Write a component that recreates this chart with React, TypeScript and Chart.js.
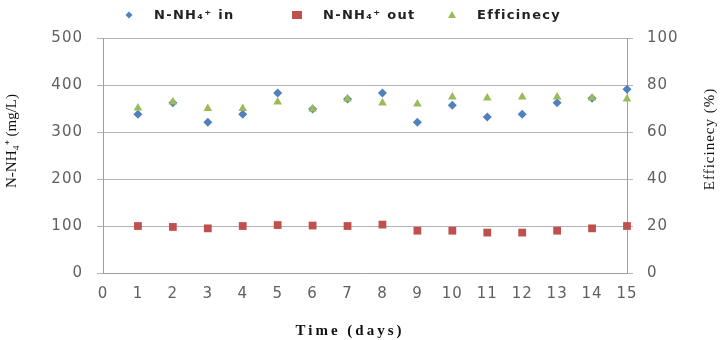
import React, { useEffect, useRef } from "react";
import { Chart, registerables } from "chart.js";

Chart.register(...registerables);

const days = [1, 2, 3, 4, 5, 6, 7, 8, 9, 10, 11, 12, 13, 14, 15];
const nh4In = [338, 362, 321, 338, 383, 349, 370, 383, 321, 357, 332, 338, 362, 372, 391];
const nh4Out = [100, 98, 95, 100, 102, 101, 100, 103, 90, 90, 86, 86, 90, 95, 100];
const efficiency = [70.2, 72.8, 70, 70, 72.8, 69.8, 74, 72.3, 71.9, 74.9, 74.5, 74.9, 74.9, 74.5, 74];

const seriesLabels = ["N-NH\u2084\u207A in", "N-NH\u2084\u207A out", "Efficinecy"];
const leftTitle = "N-NH\u2084\u207A (mg/L)";
const rightTitle = "Efficinecy (%)";
const xTitle = "Time (days)";

const BLUE = "#4F81BD";
const RED = "#C0504D";
const GREEN = "#9BBB59";
const GRID = "#b4b4b4";
const AXIS = "#a0a0a0";
const TICK = "#606060";

const overlay = {
  id: "overlay",
  beforeDraw(chart: any) {
    chart.ctx.letterSpacing = "1px";
  },
  afterDraw(chart: any) {
    const ctx = chart.ctx as CanvasRenderingContext2D;
    ctx.save();
    // legend
    ctx.letterSpacing = "1.3px";
    ctx.font = "bold 13px 'DejaVu Sans', sans-serif";
    ctx.textBaseline = "middle";
    ctx.textAlign = "left";
    const ly = 15;
    ctx.fillStyle = BLUE;
    ctx.beginPath();
    ctx.moveTo(129, ly - 3.5);
    ctx.lineTo(132.5, ly);
    ctx.lineTo(129, ly + 3.5);
    ctx.lineTo(125.5, ly);
    ctx.closePath();
    ctx.fill();
    ctx.fillStyle = "#222";
    ctx.fillText(seriesLabels[0], 154, ly + 1);
    ctx.fillStyle = RED;
    ctx.fillRect(292, ly - 4, 10, 8);
    ctx.fillStyle = "#222";
    ctx.fillText(seriesLabels[1], 323, ly + 1);
    ctx.fillStyle = GREEN;
    ctx.beginPath();
    ctx.moveTo(452, ly - 4);
    ctx.lineTo(456, ly + 3);
    ctx.lineTo(448, ly + 3);
    ctx.closePath();
    ctx.fill();
    ctx.fillStyle = "#222";
    ctx.fillText(seriesLabels[2], 477, ly + 1);

    // x title
    ctx.letterSpacing = "3px";
    ctx.font = "bold 15px 'Liberation Serif', serif";
    ctx.fillStyle = "#111";
    ctx.textAlign = "center";
    ctx.fillText(xTitle, 350, 331);

    // left title
    ctx.letterSpacing = "0px";
    ctx.font = "15px 'Liberation Serif', serif";
    ctx.save();
    ctx.translate(12, 141);
    ctx.rotate(-Math.PI / 2);
    ctx.fillText(leftTitle, 0, 0);
    ctx.restore();

    // right title
    ctx.letterSpacing = "1px";
    ctx.save();
    ctx.translate(710, 139);
    ctx.rotate(-Math.PI / 2);
    ctx.fillText(rightTitle, 0, 0);
    ctx.restore();

    ctx.restore();
    ctx.letterSpacing = "0px";
  },
};

export default function App() {
  const ref = useRef<HTMLCanvasElement>(null);
  useEffect(() => {
    document.body.style.margin = "0";
    const tickFont = { family: "'DejaVu Sans', sans-serif", size: 15 };
    const chart = new Chart(ref.current!, {
      type: "scatter",
      data: {
        datasets: [
          {
            label: seriesLabels[0],
            data: days.map((d, i) => ({ x: d, y: nh4In[i] })),
            yAxisID: "y",
            order: 2,
            clip: false,
            pointStyle: "rectRot",
            pointRadius: 4.5,
            backgroundColor: BLUE,
            borderColor: BLUE,
            borderWidth: 0,
          },
          {
            label: seriesLabels[1],
            data: days.map((d, i) => ({ x: d, y: nh4Out[i] })),
            yAxisID: "y",
            order: 1,
            clip: false,
            pointStyle: "rect",
            pointRadius: 5.5,
            backgroundColor: RED,
            borderColor: RED,
            borderWidth: 0,
          },
          {
            label: seriesLabels[2],
            data: days.map((d, i) => ({ x: d, y: efficiency[i] })),
            yAxisID: "y1",
            order: 0,
            clip: false,
            pointStyle: "triangle",
            pointRadius: 5,
            backgroundColor: GREEN,
            borderColor: GREEN,
            borderWidth: 0,
          },
        ],
      },
      options: {
        animation: false,
        responsive: false,
        layout: { padding: { top: 38, left: 0, right: 0, bottom: 0 } },
        plugins: { legend: { display: false }, tooltip: { enabled: false }, title: { display: false } },
        scales: {
          x: {
            type: "linear",
            min: 0,
            max: 15,
            ticks: { stepSize: 1, font: tickFont, color: TICK, padding: 12, maxRotation: 0 },
            grid: { drawOnChartArea: false, drawTicks: false },
            border: { display: true, color: AXIS, width: 1 },
            afterFit: (s: any) => { s.height = 67; },
          },
          y: {
            position: "left",
            min: 0,
            max: 500,
            ticks: { stepSize: 100, font: tickFont, color: TICK, padding: 14 },
            grid: { color: GRID, tickLength: 6, lineWidth: 1 },
            border: { display: true, color: AXIS, width: 1 },
            afterFit: (s: any) => { s.width = 103; },
          },
          y1: {
            position: "right",
            min: 0,
            max: 100,
            ticks: { stepSize: 20, font: tickFont, color: TICK, padding: 14 },
            grid: { drawOnChartArea: false, color: GRID, tickLength: 6 },
            border: { display: true, color: AXIS, width: 1 },
            afterFit: (s: any) => { s.width = 94; },
          },
        },
      },
      plugins: [overlay],
    });
    return () => chart.destroy();
  }, []);
  return <canvas ref={ref} width={721} height={340} style={{ display: "block" }} />;
}
